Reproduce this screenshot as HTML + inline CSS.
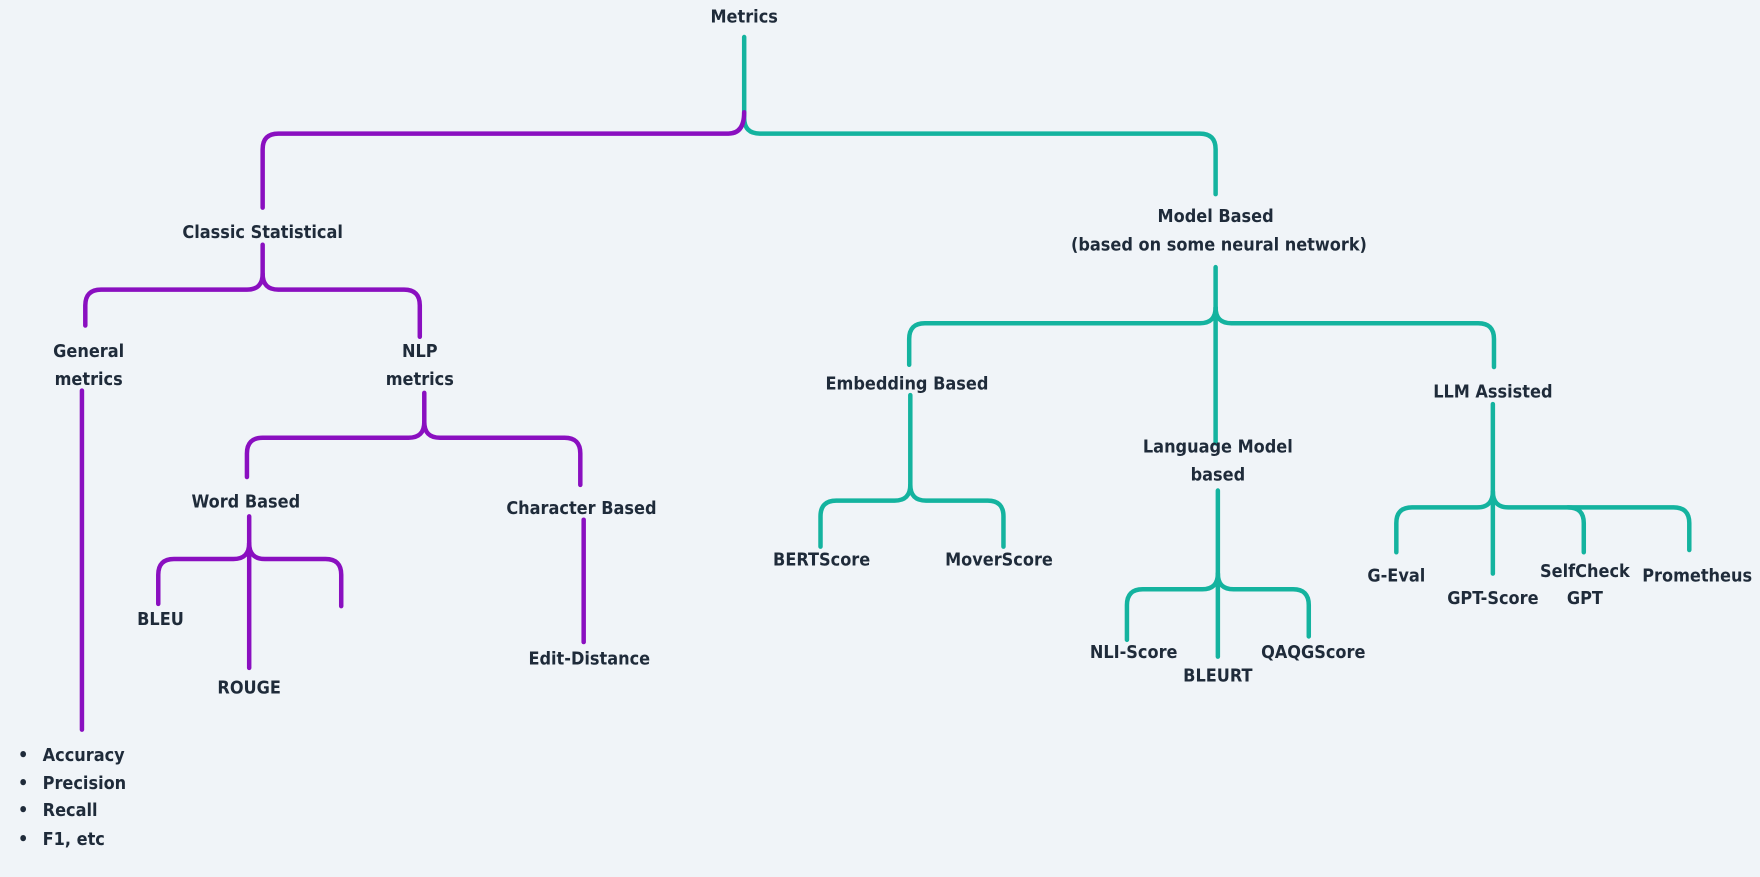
<!DOCTYPE html>
<html><head><meta charset="utf-8"><style>
html,body{margin:0;padding:0;background:#f0f4f8;}
svg{display:block}
text{font-family:"DejaVu Sans Condensed","Liberation Sans",sans-serif;font-weight:bold;font-size:16px;fill:#1f2b3a;text-anchor:middle}
.p{stroke:#8a0fc0;fill:none;stroke-width:4;stroke-linecap:round}
.t{stroke:#14b39f;fill:none;stroke-width:4;stroke-linecap:round}
</style></head><body>
<svg width="1760" height="877" viewBox="0 0 1568 781.3" preserveAspectRatio="none">
<rect width="1568" height="782" fill="#f0f4f8"/>
<path class="t" d="M663,33 V105 Q663,119 677,119 H1069 Q1083,119 1083,133 V173"/>
<path class="p" d="M663,100 Q663,119 649,119 H248 Q234,119 234,133 V185"/>
<text x="663" y="20">Metrics</text>
<text x="234" y="212">Classic Statistical</text>
<path class="p" d="M234,218 V244 Q234,258 220,258 H90 Q76,258 76,272 V290"/>
<path class="p" d="M234,244 Q234,258 248,258 H360 Q374,258 374,272 V300"/>
<text x="79" y="318">General</text><text x="79" y="343">metrics</text>
<path class="p" d="M73,348 V650"/>
<text x="16" y="678" style="text-anchor:start">•</text><text x="38" y="678" style="text-anchor:start">Accuracy</text>
<text x="16" y="703" style="text-anchor:start">•</text><text x="38" y="703" style="text-anchor:start">Precision</text>
<text x="16" y="727" style="text-anchor:start">•</text><text x="38" y="727" style="text-anchor:start">Recall</text>
<text x="16" y="753" style="text-anchor:start">•</text><text x="38" y="753" style="text-anchor:start">F1, etc</text>
<text x="374" y="318">NLP</text><text x="374" y="343">metrics</text>
<path class="p" d="M378,350 V376 Q378,390 364,390 H234 Q220,390 220,404 V425"/>
<path class="p" d="M378,376 Q378,390 392,390 H503 Q517,390 517,404 V432"/>
<text x="219" y="452">Word Based</text>
<path class="p" d="M222,460 V484 Q222,498 208,498 H155 Q141,498 141,512 V538"/>
<path class="p" d="M222,484 Q222,498 236,498 H290 Q304,498 304,512 V540"/>
<path class="p" d="M222,484 V595"/>
<text x="143" y="557">BLEU</text>
<text x="222" y="618">ROUGE</text>
<text x="518" y="458">Character Based</text>
<path class="p" d="M520,463 V572"/>
<text x="525" y="592">Edit-Distance</text>
<text x="1083" y="198">Model Based</text>
<text x="1086" y="223">(based on some neural network)</text>
<path class="t" d="M1083,238 V274 Q1083,288 1069,288 H824 Q810,288 810,302 V325"/>
<path class="t" d="M1083,274 Q1083,288 1097,288 H1317 Q1331,288 1331,302 V327"/>
<path class="t" d="M1083,274 V395"/>
<text x="808" y="347">Embedding Based</text>
<path class="t" d="M811,352 V432 Q811,446 797,446 H745 Q731,446 731,460 V487"/>
<path class="t" d="M811,432 Q811,446 825,446 H880 Q894,446 894,460 V487"/>
<text x="732" y="504">BERTScore</text>
<text x="890" y="504">MoverScore</text>
<text x="1085" y="403">Language Model</text>
<text x="1085" y="428">based</text>
<path class="t" d="M1085,437 V511 Q1085,525 1071,525 H1018 Q1004,525 1004,539 V570"/>
<path class="t" d="M1085,511 Q1085,525 1099,525 H1152 Q1166,525 1166,539 V567"/>
<path class="t" d="M1085,511 V585"/>
<text x="1010" y="586">NLI-Score</text>
<text x="1085" y="607">BLEURT</text>
<text x="1170" y="586">QAQGScore</text>
<text x="1330" y="354">LLM Assisted</text>
<path class="t" d="M1330,360 V438 Q1330,452 1316,452 H1258 Q1244,452 1244,466 V492"/>
<path class="t" d="M1330,438 Q1330,452 1344,452 H1491 Q1505,452 1505,466 V490"/>
<path class="t" d="M1397,452 Q1411,452 1411,466 V492"/>
<path class="t" d="M1330,438 V511"/>
<text x="1244" y="518">G-Eval</text>
<text x="1330" y="538">GPT-Score</text>
<text x="1412" y="514">SelfCheck</text>
<text x="1412" y="538">GPT</text>
<text x="1512" y="518">Prometheus</text>
</svg>
</body></html>
